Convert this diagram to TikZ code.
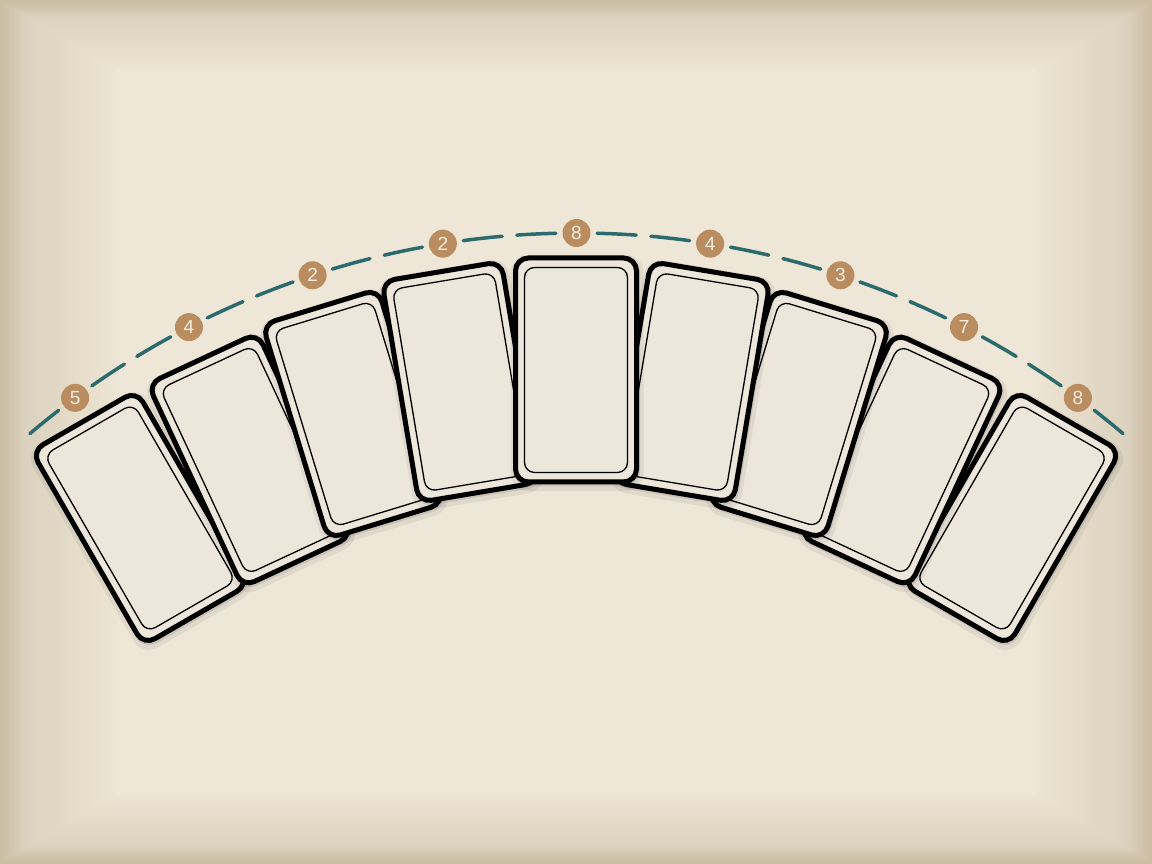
\documentclass[tikz,border=0pt]{standalone}
\usepackage{fontspec}
\setmainfont{Liberation Sans}
\definecolor{paper}{HTML}{EEE6D7}
\definecolor{paperdark}{HTML}{C39250}
\definecolor{cardfill}{HTML}{ECE6DB}
\definecolor{badgefill}{HTML}{B98D5F}
\definecolor{digitcol}{HTML}{F5EDE0}
\definecolor{arcteal}{HTML}{2C6B6D}
\begin{document}
\begin{tikzpicture}[x=1pt,y=1pt,
  vign/.style={fill=paperdark, even odd rule},
  shadowA/.style={rectangle, fill=black, opacity=0.06, minimum width=133pt, minimum height=236pt, rounded corners=18pt, inner sep=0pt},
  shadowB/.style={rectangle, fill=black, opacity=0.09, minimum width=126pt, minimum height=229pt, rounded corners=15pt, inner sep=0pt},
  card/.style={rectangle, draw=black, line width=5pt, fill=cardfill, minimum width=121pt, minimum height=224pt, rounded corners=13pt, inner sep=0pt},
  cardin/.style={rectangle, draw=black, line width=1.3pt, minimum width=103pt, minimum height=205pt, rounded corners=10pt, inner sep=0pt},
  badge/.style={circle, fill=badgefill, minimum size=28pt, inner sep=0pt, text=digitcol, font=\fontsize{19}{19}\selectfont},
  arcdash/.style={draw=arcteal, line width=3.5pt, line cap=round}]
% background
\useasboundingbox (0,0) rectangle (1152,864);
\fill[paper] (0,0) rectangle (1152,864);
\foreach \k in {0,...,24}{
  \fill[vign, opacity=0.008] (0,0) rectangle (1152,864) ({\k*5},{\k*3}) rectangle ({1152-\k*5},{864-\k*3});
}
\foreach \k in {0,...,11}{
  \fill[vign, opacity=0.02] (0,0) rectangle (1152,864) ({\k*2},{\k*1.5}) rectangle ({1152-\k*2},{864-\k*1.5});
}
% cards
\foreach \n/\x/\y/\a in {1/140/346/30, 9/1012/346/-30, 2/250/404/25, 8/902/404/-25, 3/353/450/17, 7/799/450/-17, 4/460/482/9.5, 6/692/482/-9.5, 5/576/494/0}{
  \node[shadowA, rotate=\a] (sa\n) at (\x+1,\y-3) {};
  \node[shadowB, rotate=\a] (sb\n) at (\x+1,\y-2) {};
  \node[card, rotate=\a] (card\n) at (\x,\y) {};
  \node[cardin, rotate=\a] (inner\n) at (card\n.center) {};
}
% arc
\coordinate (O) at (576.5,-214);
\foreach \i in {1,...,8}{
  \pgfmathsetmacro\ah{90+9.1*(5-\i)}
  \pgfmathsetmacro\sa{\ah-1.4}
  \pgfmathsetmacro\ea{\ah-4.05}
  \pgfmathsetmacro\sb{\ah-5.05}
  \pgfmathsetmacro\eb{\ah-7.7}
  \draw[arcdash] ([shift={(\sa:845)}]O) arc[start angle=\sa, end angle=\ea, radius=845];
  \draw[arcdash] ([shift={(\sb:845)}]O) arc[start angle=\sb, end angle=\eb, radius=845];
}
\draw[arcdash] ([shift={(127.8:845)}]O) arc[start angle=127.8, end angle=130.3, radius=845];
\draw[arcdash] ([shift={(52.2:845)}]O) arc[start angle=52.2, end angle=49.7, radius=845];
% badges
\foreach \i/\t in {1/5, 2/4, 3/2, 4/2, 5/8, 6/4, 7/3, 8/7, 9/8}{
  \pgfmathsetmacro\ang{90+9.1*(5-\i)}
  \node[badge] (badge\i) at ([shift={(\ang:845)}]O) {\t};
}
\end{tikzpicture}
\end{document}
